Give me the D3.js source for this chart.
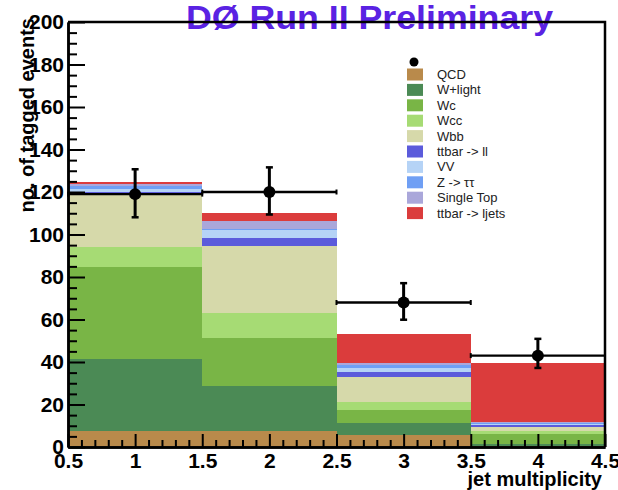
<!DOCTYPE html>
<html>
<head>
<meta charset="utf-8">
<script src="https://cdn.jsdelivr.net/npm/d3@7"></script>
<style>
  html, body { margin: 0; padding: 0; background: #fff; }
  svg { display: block; font-family: "Liberation Sans", Arial, Helvetica, sans-serif; }
</style>
</head>
<body>
<svg id="chart" width="618" height="490"></svg>
<script>
// Jet-multiplicity bins (centres)
const bins = [1, 2, 3, 4];

// Stacked background predictions per bin (bottom to top)
const seriesNames = ["QCD", "W+light", "Wc", "Wcc", "Wbb", "ttbar -> ll", "VV", "Z -> \u03c4\u03c4", "Single Top", "ttbar -> ljets"];
const qcd      = [7.7, 7.7, 5.6, 0.3];
const wLight   = [33.8, 21.0, 5.8, 1.2];
const wc       = [43.0, 22.4, 6.0, 4.8];
const wcc      = [9.8, 12.1, 3.9, 1.2];
const wbb      = [25.0, 31.2, 11.5, 1.7];
const ttLL     = [0.5, 3.8, 2.6, 1.0];
const vv       = [1.5, 4.0, 1.6, 0.7];
const zTauTau  = [1.5, 0.4, 1.4, 0.3];
const singleTop= [1.0, 3.9, 1.0, 0.5];
const ttLJets  = [0.7, 3.5, 13.8, 27.7];
const seriesColors = ["#b98a4b", "#4b8a55", "#79b546", "#a6db74", "#d6d9aa", "#5b5bdb", "#b5d3f6", "#6f9ff4", "#aaa7da", "#db3c3c"];

// Observed tagged events with asymmetric errors
const observed = [119, 120, 68, 43];
const errHigh  = [11.7, 11.6, 9.1, 7.9];
const errLow   = [10.9, 10.6, 8.1, 5.8];

// Axis ticks
const xMajorTicks = [0.5, 1, 1.5, 2, 2.5, 3, 3.5, 4, 4.5];
const yMajorTicks = [0, 20, 40, 60, 80, 100, 120, 140, 160, 180, 200];

const svg = d3.select("#chart");
const plotLeft = 68, plotRight = 605, plotTop = 22, plotBottom = 447;

const x = d3.scaleLinear().domain([0.5, 4.5]).range([plotLeft, plotRight]);
const y = d3.scaleLinear().domain([0, 200]).range([plotBottom, plotTop]);

// Build the stack table
const seriesValues = [qcd, wLight, wc, wcc, wbb, ttLL, vv, zTauTau, singleTop, ttLJets];
const table = bins.map((b, i) => {
  const row = { bin: b };
  seriesNames.forEach((n, k) => { row[n] = seriesValues[k][i]; });
  return row;
});
const stacked = d3.stack().keys(seriesNames)(table);

// Stacked histogram fills
const layers = svg.append("g");
stacked.forEach((layer, k) => {
  layers.selectAll(null)
    .data(layer)
    .join("rect")
    .attr("x", d => x(d.data.bin - 0.5))
    .attr("width", d => x(d.data.bin + 0.5) - x(d.data.bin - 0.5))
    .attr("y", d => y(d[1]))
    .attr("height", d => y(d[0]) - y(d[1]))
    .attr("fill", seriesColors[k])
    .attr("shape-rendering", "crispEdges");
});

// Title
svg.append("text")
  .attr("x", 186).attr("y", 29)
  .attr("font-size", 33).attr("font-weight", "bold")
  .attr("fill", "#5a22e3")
  .attr("textLength", 367).attr("lengthAdjust", "spacingAndGlyphs")
  .text("D\u00d8 Run II Preliminary");

// Frame (top and right)
svg.append("path")
  .attr("d", `M${plotLeft},${plotTop}H${plotRight}V${plotBottom}`)
  .attr("fill", "none").attr("stroke", "#000").attr("stroke-width", 2.5);

// Y axis: major ticks with labels, minor ticks without
svg.append("g").attr("transform", `translate(${plotLeft},0)`)
  .call(d3.axisLeft(y).tickValues(yMajorTicks).tickSizeInner(-17).tickSizeOuter(0).tickPadding(4).tickFormat(d3.format("d")));
svg.append("g").attr("transform", `translate(${plotLeft},0)`)
  .call(d3.axisLeft(y).tickValues(d3.range(0, 201, 5).filter(v => v % 20 !== 0)).tickSizeInner(-9).tickSizeOuter(0).tickFormat(""));

// X axis
svg.append("g").attr("transform", `translate(0,${plotBottom})`)
  .call(d3.axisBottom(x).tickValues(xMajorTicks).tickSizeInner(-13).tickSizeOuter(0).tickPadding(6).tickFormat(d => String(d)));
svg.append("g").attr("transform", `translate(0,${plotBottom})`)
  .call(d3.axisBottom(x).tickValues(d3.range(5, 46).map(v => v / 10).filter(v => Math.round(v * 10) % 5 !== 0)).tickSizeInner(-7).tickSizeOuter(0).tickFormat(""));

svg.selectAll(".domain").attr("stroke", "#000").attr("stroke-width", 2.5);
svg.selectAll(".tick line").attr("stroke", "#000").attr("stroke-width", 2);
svg.selectAll(".tick text")
  .attr("font-family", "'Liberation Sans', Arial, sans-serif")
  .attr("font-size", 21).attr("font-weight", "bold").attr("fill", "#000");

// Axis titles
svg.append("text")
  .attr("transform", "translate(34,18) rotate(-90)")
  .attr("text-anchor", "end")
  .attr("font-size", 20).attr("font-weight", "bold")
  .text("no. of tagged events");
svg.append("text")
  .attr("x", 602).attr("y", 486)
  .attr("text-anchor", "end")
  .attr("font-size", 20).attr("font-weight", "bold")
  .text("jet multiplicity");

// Observed data with error bars
const dataG = svg.append("g").attr("stroke", "#000").attr("fill", "#000");
bins.forEach((b, i) => {
  const cy = y(observed[i]);
  // horizontal bin-width bar
  dataG.append("line")
    .attr("x1", x(b - 0.5)).attr("x2", x(b + 0.5))
    .attr("y1", cy).attr("y2", cy).attr("stroke-width", 2.4);
  [b - 0.5, b + 0.5].forEach(e => {
    dataG.append("line")
      .attr("x1", x(e)).attr("x2", x(e))
      .attr("y1", cy - 2.5).attr("y2", cy + 2.5).attr("stroke-width", 2);
  });
  // vertical error bar with caps
  const yHi = y(observed[i] + errHigh[i]), yLo = y(observed[i] - errLow[i]);
  dataG.append("line")
    .attr("x1", x(b)).attr("x2", x(b)).attr("y1", yHi).attr("y2", yLo).attr("stroke-width", 3);
  [yHi, yLo].forEach(v => {
    dataG.append("line")
      .attr("x1", x(b) - 3.5).attr("x2", x(b) + 3.5).attr("y1", v).attr("y2", v).attr("stroke-width", 2.5);
  });
  dataG.append("circle").attr("cx", x(b)).attr("cy", cy).attr("r", 6).attr("stroke", "none");
});

// Legend
const legend = svg.append("g");
legend.append("circle").attr("cx", 414).attr("cy", 62).attr("r", 4.5).attr("fill", "#000");
seriesNames.forEach((name, k) => {
  const ry = 74.5 + k * 15.4;
  legend.append("rect")
    .attr("x", 407).attr("y", ry - 6).attr("width", 16).attr("height", 12)
    .attr("fill", seriesColors[k]);
  legend.append("text")
    .attr("x", 437).attr("y", ry).attr("dy", "0.35em")
    .attr("font-size", 13).attr("fill", "#222")
    .text(name);
});
</script>
</body>
</html>
